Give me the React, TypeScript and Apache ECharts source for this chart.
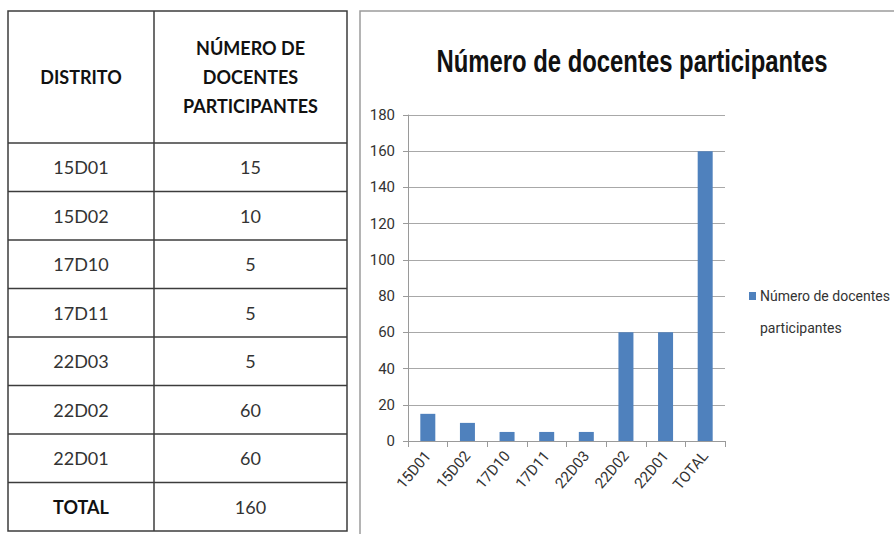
import React, { useEffect, useRef } from "react";
import * as echarts from "echarts";

const categories = ["15D01", "15D02", "17D10", "17D11", "22D03", "22D02", "22D01", "TOTAL"];
const values = [15, 10, 5, 5, 5, 60, 60, 160];
const seriesName = "Número de docentes participantes";
const chartTitle = "Número de docentes participantes";
const legendLines = ["Número de docentes", "participantes"];
const tableHeaders = ["DISTRITO", "NÚMERO DE\nDOCENTES\nPARTICIPANTES"];
const yMax = 180;
const yInterval = 20;

const CHART_FONT = 'Roboto, "Liberation Sans", sans-serif';
const TITLE_FONT = '"Liberation Sans", Roboto, sans-serif';
const TABLE_FONT = 'Lato, "Open Sans", sans-serif';

function buildTable() {
  const x0 = 8, x1 = 154, x2 = 347;
  const yTop = 11, yHead = 143, rowH = 48.5;
  const yBottom = yHead + rowH * categories.length;
  const border = { stroke: "#3c3c3c", lineWidth: 1.5 };
  const els: any[] = [];
  els.push({ type: "rect", shape: { x: x0, y: yTop, width: x2 - x0, height: yBottom - yTop }, style: { fill: "#fff", ...border } });
  els.push({ type: "line", shape: { x1: x1, y1: yTop, x2: x1, y2: yBottom }, style: border });
  els.push({ type: "line", shape: { x1: x0, y1: yHead, x2: x2, y2: yHead }, style: border });
  for (let i = 1; i < categories.length; i++) {
    const y = yHead + rowH * i;
    els.push({ type: "line", shape: { x1: x0, y1: y, x2: x2, y2: y }, style: border });
  }
  const c1 = (x0 + x1) / 2, c2 = (x1 + x2) / 2;
  const hy = (yTop + yHead) / 2;
  els.push({ type: "text", x: c1, y: hy, style: { text: tableHeaders[0], fill: "#111", font: `bold 18px ${TABLE_FONT}`, textAlign: "center", textVerticalAlign: "middle" } });
  els.push({ type: "text", x: c2, y: hy, style: { text: tableHeaders[1], fill: "#111", font: `bold 18px ${TABLE_FONT}`, textAlign: "center", textVerticalAlign: "middle", lineHeight: 29 } });
  categories.forEach((c, i) => {
    const y = yHead + rowH * (i + 0.5);
    const isTotal = c === "TOTAL";
    els.push({ type: "text", x: c1, y, style: { text: c, fill: isTotal ? "#111" : "#333", font: `${isTotal ? "bold " : ""}18px ${TABLE_FONT}`, textAlign: "center", textVerticalAlign: "middle" } });
    els.push({ type: "text", x: c2, y, style: { text: String(values[i]), fill: "#333", font: `18px ${TABLE_FONT}`, textAlign: "center", textVerticalAlign: "middle" } });
  });
  return els;
}

export default function App() {
  const ref = useRef<HTMLDivElement>(null);
  useEffect(() => {
    if (!ref.current) return;
    const chart = echarts.init(ref.current, undefined, { renderer: "svg" });
    chart.setOption({
      animation: false,
      backgroundColor: "#fff",
      legend: {
        left: 744,
        top: 284,
        itemWidth: 7,
        itemHeight: 8,
        itemGap: 4,
        icon: "rect",
        formatter: () => legendLines[0],
        textStyle: { fontFamily: CHART_FONT, fontSize: 14, color: "#333", padding: [0, 0, 0, -1] },
        data: [seriesName],
      },
      grid: { left: 408, top: 115, width: 317, height: 326, containLabel: false },
      xAxis: {
        type: "category",
        data: categories,
        boundaryGap: true,
        axisLine: { lineStyle: { color: "#9a9a9a", width: 1 } },
        axisTick: { show: true, length: 6, alignWithLabel: false, lineStyle: { color: "#9a9a9a" } },
        axisLabel: { rotate: 50, margin: 12, interval: 0, fontFamily: CHART_FONT, fontSize: 15, color: "#333" },
      },
      yAxis: {
        type: "value",
        min: 0,
        max: yMax,
        interval: yInterval,
        axisLine: { show: true, lineStyle: { color: "#9a9a9a", width: 1 } },
        axisTick: { show: true, length: 5, lineStyle: { color: "#9a9a9a" } },
        axisLabel: { margin: 13, fontFamily: CHART_FONT, fontSize: 15, color: "#333" },
        splitLine: { show: true, lineStyle: { color: "#a8a8a8", width: 1 } },
      },
      series: [
        {
          name: seriesName,
          type: "bar",
          data: values,
          barWidth: 15,
          itemStyle: { color: "#4f81bd" },
        },
      ],
      graphic: [
        { type: "rect", z: -1, shape: { x: 360, y: 11, width: 560, height: 560 }, style: { fill: "#fff", stroke: "#9c9c9c", lineWidth: 1.5 } },
        {
          type: "text",
          x: 632,
          y: 61,
          scaleX: 0.77,
          style: { text: chartTitle, font: `bold 31px ${TITLE_FONT}`, fill: "#111", textAlign: "center", textVerticalAlign: "middle" },
        },
        {
          type: "text",
          x: 760,
          y: 328,
          style: { text: legendLines[1], font: `14px ${CHART_FONT}`, fill: "#333", textAlign: "left", textVerticalAlign: "middle" },
        },
        ...buildTable(),
      ],
    });
    return () => chart.dispose();
  }, []);
  return <div ref={ref} style={{ position: "fixed", left: 0, top: 0, width: 894, height: 534 }} />;
}
